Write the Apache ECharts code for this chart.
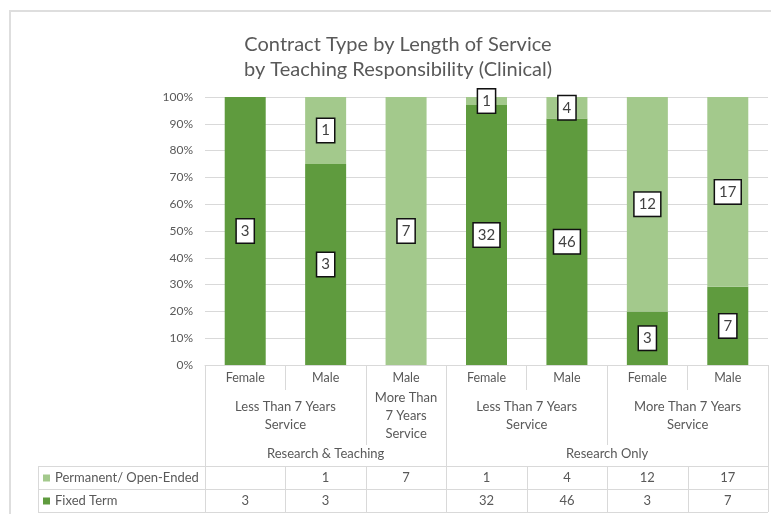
<!DOCTYPE html>
<html>
<head>
<meta charset="utf-8">
<title>Contract Type by Length of Service</title>
<script src="https://cdn.jsdelivr.net/npm/echarts@6/dist/echarts.min.js"></script>
<style>
  html, body { margin: 0; padding: 0; background: #fff; }
  #chart { width: 771px; height: 514px; }
</style>
</head>
<body>
<div id="chart"></div>
<script>
// Gender per column (innermost category level)
const genders = ['Female', 'Male', 'Male', 'Female', 'Male', 'Female', 'Male'];

// Length-of-service groups: label, first column, column after last
const serviceGroups = [
  ['Less Than 7 Years\nService', 0, 2],
  ['More Than\n7 Years\nService', 2, 3],
  ['Less Than 7 Years\nService', 3, 5],
  ['More Than 7 Years\nService', 5, 7]
];

// Teaching-responsibility groups
const roleGroups = [
  ['Research & Teaching', 0, 3],
  ['Research Only', 3, 7]
];

// Head counts per column (null = no staff)
const permanent = [null, 1, 7, 1, 4, 12, 17];
const fixedTerm = [3, 3, null, 32, 46, 3, 7];

const seriesNames = ['Permanent/ Open-Ended', 'Fixed Term'];
const yTicks = [0, 10, 20, 30, 40, 50, 60, 70, 80, 90, 100];

const DARK = '#5f9b3e';
const LIGHT = '#a3c98c';
const TEXT = '#595959';
const LINE = '#d9d9d9';
const FONT = 'Lato, "Open Sans", sans-serif';

const totals = genders.map((_, i) => (permanent[i] || 0) + (fixedTerm[i] || 0));
const toShare = (arr) => arr.map((v, i) => v == null ? null : { value: v / totals[i] * 100, count: v });

const boxLabel = {
  show: true,
  position: 'inside',
  formatter: (p) => String(p.data.count),
  color: '#404040',
  fontFamily: FONT,
  fontSize: 15,
  backgroundColor: '#ffffff',
  borderColor: '#111111',
  borderWidth: 1.5,
  padding: [5, 4, 3, 4]
};

const chart = echarts.init(document.getElementById('chart'), null, { renderer: 'canvas' });

chart.setOption({
  animation: false,
  backgroundColor: '#ffffff',
  textStyle: { fontFamily: FONT },
  title: {
    text: 'Contract Type by Length of Service\nby Teaching Responsibility (Clinical)',
    left: 393,
    top: 27,
    textAlign: 'center',
    textStyle: { color: TEXT, fontSize: 20, fontWeight: 'normal', fontFamily: FONT, lineHeight: 25 }
  },
  grid: { left: 205, right: 3, top: 97, bottom: 149, containLabel: false },
  xAxis: {
    type: 'category',
    data: genders,
    axisLine: { lineStyle: { color: LINE } },
    axisTick: { show: true, interval: 0, length: 25, lineStyle: { color: LINE } },
    axisLabel: { color: TEXT, fontSize: 12.5, fontFamily: FONT, margin: 6, interval: 0 }
  },
  yAxis: {
    type: 'value',
    min: yTicks[0],
    max: yTicks[yTicks.length - 1],
    interval: 10,
    axisLine: { show: false },
    axisTick: { show: false },
    axisLabel: { color: TEXT, fontSize: 12, fontFamily: FONT, margin: 12, formatter: '{value}%' },
    splitLine: { lineStyle: { color: LINE } }
  },
  series: [
    {
      name: seriesNames[1],
      type: 'bar',
      stack: 'share',
      barWidth: 41,
      data: toShare(fixedTerm),
      itemStyle: { color: DARK },
      label: boxLabel
    },
    {
      name: seriesNames[0],
      type: 'bar',
      stack: 'share',
      barWidth: 41,
      data: toShare(permanent),
      itemStyle: { color: LIGHT },
      label: boxLabel
    }
  ]
});

// Category group labels and the data table, placed through the axis scale
function drawExtras() {
  const c0 = chart.convertToPixel({ xAxisIndex: 0 }, 0);
  const c1 = chart.convertToPixel({ xAxisIndex: 0 }, 1);
  const w = c1 - c0;
  const edge = (b) => c0 - w / 2 + b * w;
  const mid = (i) => c0 + i * w;
  const axisY = chart.convertToPixel({ yAxisIndex: 0 }, 0);

  const serviceY = axisY + 51;
  const roleY = axisY + 89;
  const tableTop = axisY + 101;
  const rowH = 23;
  const tableLeft = 38;

  const g = [];
  const line = (x1, y1, x2, y2) => g.push({
    type: 'line', silent: true,
    shape: { x1: Math.round(x1) + 0.5, y1, x2: Math.round(x2) + 0.5, y2 },
    style: { stroke: LINE, lineWidth: 1 }
  });
  const text = (str, x, y, extra) => g.push({
    type: 'text', silent: true,
    style: Object.assign({
      text: str, x, y, fill: TEXT, font: '13px ' + FONT,
      textAlign: 'center', textVerticalAlign: 'middle', lineHeight: 18
    }, extra || {})
  });

  // outer frame of the chart area
  g.push({
    type: 'rect', silent: true,
    shape: { x: 10, y: 11, width: 800, height: 600 },
    style: { fill: null, stroke: '#dedede', lineWidth: 2 }
  });

  // service-length level
  serviceGroups.forEach(([label, s, e]) => {
    text(label, (edge(s) + edge(e)) / 2, serviceY);
    line(edge(s), axisY, edge(s), axisY + 80);
  });
  line(edge(genders.length), axisY, edge(genders.length), axisY + 80);

  // teaching-responsibility level
  roleGroups.forEach(([label, s, e]) => {
    text(label, (edge(s) + edge(e)) / 2, roleY);
    line(edge(s), axisY, edge(s), tableTop);
  });
  line(edge(genders.length), axisY, edge(genders.length), tableTop);

  // data table
  const right = edge(genders.length);
  for (let r = 0; r <= 2; r++) {
    g.push({
      type: 'line', silent: true,
      shape: { x1: tableLeft, y1: tableTop + r * rowH + 0.5, x2: right, y2: tableTop + r * rowH + 0.5 },
      style: { stroke: LINE, lineWidth: 1 }
    });
  }
  line(tableLeft, tableTop, tableLeft, tableTop + 2 * rowH);
  for (let b = 0; b <= genders.length; b++) line(edge(b), tableTop, edge(b), tableTop + 2 * rowH);

  const rows = [[seriesNames[0], LIGHT, permanent], [seriesNames[1], DARK, fixedTerm]];
  rows.forEach(([name, color, vals], r) => {
    const cy = tableTop + r * rowH + rowH / 2 + 0.5;
    g.push({
      type: 'rect', silent: true,
      shape: { x: tableLeft + 5, y: cy - 3.5, width: 7, height: 7 },
      style: { fill: color }
    });
    text(name, tableLeft + 17, cy, { textAlign: 'left' });
    vals.forEach((v, i) => {
      if (v != null) text(String(v), mid(i), cy);
    });
  });

  chart.setOption({ graphic: { elements: g } });
}

drawExtras();
</script>
</body>
</html>
